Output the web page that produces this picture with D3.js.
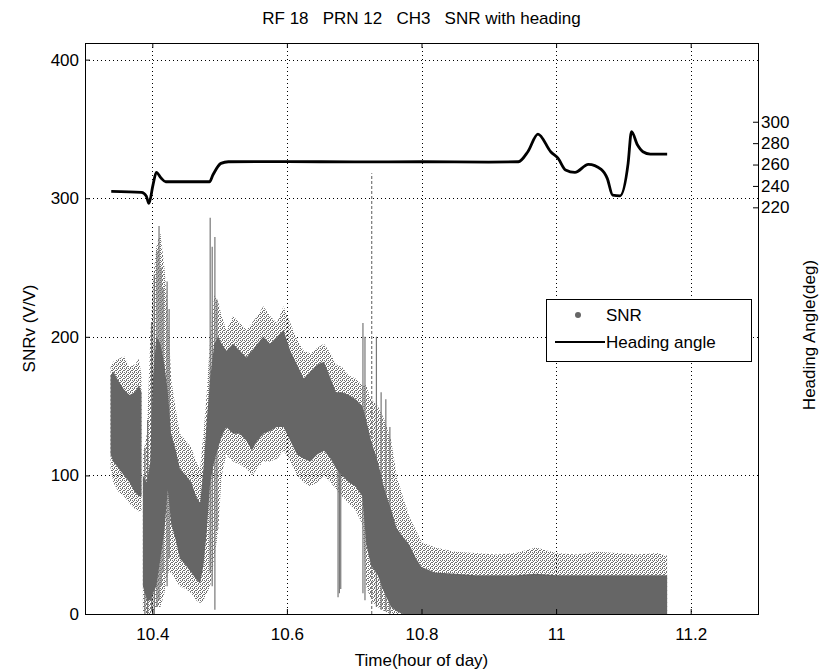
<!DOCTYPE html>
<html>
<head>
<meta charset="utf-8">
<script src="https://cdn.jsdelivr.net/npm/d3@7"></script>
<style>
body { margin: 0; background: #fff; }
text { font-family: "Liberation Sans", Arial, sans-serif; fill: #000; }
</style>
</head>
<body>
<svg></svg>
<script>
// SNR scatter, read as bands: dense core + sparse fringe (null = gap)
var snrTime = [10.338,10.342,10.350,10.358,10.366,10.374,10.380,10.384,10.385,
  10.386,10.392,10.397,10.401,10.406,10.412,10.418,10.423,10.428,10.434,10.441,10.450,10.458,10.465,10.471,10.476,10.481,10.486,10.492,10.498,10.503,
  10.510,10.520,10.530,10.540,10.548,10.556,10.565,10.575,10.585,10.595,10.605,10.615,10.625,10.635,10.645,10.655,10.665,10.673,
  10.682,10.692,10.702,10.712,10.718,10.725,10.735,10.745,10.755,10.763,10.772,10.782,10.792,10.800,
  10.82,10.85,10.88,10.91,10.94,10.97,11.00,11.03,11.06,11.09,11.12,11.15,11.165];
var snrCoreLo = [115,110,105,100,95,88,85,85,null,
  20,10,10,15,20,40,60,90,65,55,40,35,30,25,22,35,60,95,110,120,128,
  135,130,130,125,118,125,130,132,135,135,125,115,112,110,115,118,112,105,
  100,95,92,85,50,35,28,15,5,2,0,0,0,0,
  0,0,0,0,0,0,0,0,0,0,0,0,0];
var snrCoreHi = [172,175,168,162,158,160,165,160,null,
  100,95,110,170,200,195,180,160,130,120,105,100,95,85,80,105,140,170,195,200,195,
  190,195,190,185,190,195,200,195,200,205,190,180,170,175,180,182,170,160,
  160,158,155,150,140,125,110,90,75,62,56,50,40,34,
  30,29,28,28,28,29,28,28,28,28,28,28,28];
var snrOutLo = [105,95,88,85,80,76,74,75,null,
  2,0,0,0,5,5,15,30,30,25,20,18,15,10,8,10,15,20,40,60,100,
  115,110,108,105,100,105,110,110,112,118,110,100,95,92,95,100,95,90,
  85,80,75,65,20,10,5,2,0,0,0,0,0,0,
  0,0,0,0,0,0,0,0,0,0,0,0,0];
var snrOutHi = [178,182,184,186,178,180,184,172,null,
  115,130,200,240,265,275,250,220,170,150,130,125,120,110,105,130,160,200,230,225,215,
  205,215,210,205,210,215,222,215,210,222,210,198,190,188,192,195,188,180,
  178,172,170,165,165,155,150,140,125,100,85,70,60,52,
  48,45,44,43,44,48,44,43,45,44,43,44,42];

// thin vertical streaks of the scatter
var spikeTime = [10.389,10.393,10.399,10.403,10.407,10.410,10.413,10.416,10.422,10.425,10.486,10.489,10.493,10.496,10.676,10.678,10.680,10.713,10.716,10.726,10.733,10.740,10.747,10.753];
var spikeLo   = [0,0,2,0,5,10,20,30,20,40,30,20,3,60,12,15,18,15,10,0,5,3,2,0];
var spikeHi   = [120,140,210,245,262,280,250,235,240,220,286,265,272,227,115,110,105,210,200,318,200,160,155,135];

// heading angle (right axis)
var headTime  = [10.339,10.384,10.391,10.395,10.401,10.406,10.413,10.420,10.485,10.490,10.502,10.513,10.60,10.70,10.80,10.90,10.944,10.958,10.973,10.992,11.003,11.014,11.028,11.048,11.067,11.076,11.084,11.095,11.107,11.112,11.121,11.129,11.140,11.165];
var headAngle = [235,234,230.6,223.7,240.8,252.7,247.4,243.9,243.9,250.2,261.1,262.6,262.8,262.4,262.6,262.3,262.6,272,288.5,272,265.8,254.9,252.7,260.2,255.5,247.1,231.5,230.8,261.1,290.7,278.2,272,269.8,269.8];

var xTicks = [10.4, 10.6, 10.8, 11, 11.2];
var xTickLabels = ["10.4", "10.6", "10.8", "11", "11.2"];
var yTicks = [0, 100, 200, 300, 400];
var hTicks = [220, 240, 260, 280, 300];

var svgWidth = 829, svgHeight = 671;
var pLeft = 85, pRight = 758, pTop = 43, pBottom = 614;

var svg = d3.select("svg")
    .attr("width", svgWidth)
    .attr("height", svgHeight);

// stipple for the sparse part of the scatter
var pat = svg.append("defs").append("pattern")
    .attr("id", "stipple")
    .attr("patternUnits", "userSpaceOnUse")
    .attr("width", 4).attr("height", 4);
[[0,0],[2,0],[1,1],[3,2],[0,2],[2,3]].forEach(function(p) {
    pat.append("rect").attr("x", p[0]).attr("y", p[1])
        .attr("width", 1).attr("height", 1).attr("fill", "#707070");
});

var x = d3.scaleLinear().domain([10.3, 11.3]).range([pLeft, pRight]);
var y = d3.scaleLinear().domain([0, 412]).range([pBottom, pTop]);
var yH = d3.scaleLinear().domain([-160.1, 373.6]).range([pBottom, pTop]);

// grid
var grid = svg.append("g").attr("stroke", "#000").attr("stroke-dasharray", "1,3").attr("stroke-width", 1);
grid.selectAll(".gx").data(xTicks).enter().append("line")
    .attr("x1", function(d) { return Math.round(x(d)) + 0.5; })
    .attr("x2", function(d) { return Math.round(x(d)) + 0.5; })
    .attr("y1", pTop).attr("y2", pBottom);
grid.selectAll(".gy").data(yTicks.slice(1)).enter().append("line")
    .attr("y1", function(d) { return Math.round(y(d)) + 0.5; })
    .attr("y2", function(d) { return Math.round(y(d)) + 0.5; })
    .attr("x1", pLeft).attr("x2", pRight);

// SNR bands
var idx = d3.range(snrTime.length);
var outArea = d3.area()
    .defined(function(i) { return snrOutLo[i] !== null; })
    .x(function(i) { return x(snrTime[i]); })
    .y0(function(i) { return y(snrOutLo[i]); })
    .y1(function(i) { return y(snrOutHi[i]); });
var coreArea = d3.area()
    .defined(function(i) { return snrCoreLo[i] !== null; })
    .x(function(i) { return x(snrTime[i]); })
    .y0(function(i) { return y(snrCoreLo[i]); })
    .y1(function(i) { return y(snrCoreHi[i]); });

svg.append("path").datum(idx)
    .attr("d", outArea)
    .attr("fill", "url(#stipple)");

svg.selectAll(".spike").data(spikeTime).enter().append("line")
    .attr("class", "spike")
    .attr("x1", function(d) { return x(d); })
    .attr("x2", function(d) { return x(d); })
    .attr("y1", function(d, i) { return y(spikeLo[i]); })
    .attr("y2", function(d, i) { return y(spikeHi[i]); })
    .attr("stroke", "#777")
    .attr("stroke-width", 1.2)
    .attr("stroke-dasharray", function(d, i) { return spikeHi[i] > 300 ? "3,2" : null; });

svg.append("path").datum(idx)
    .attr("d", coreArea)
    .attr("fill", "#666");

// heading line
var headLine = d3.line()
    .x(function(d, i) { return x(headTime[i]); })
    .y(function(d) { return yH(d); })
    .curve(d3.curveMonotoneX);

svg.append("path").datum(headAngle)
    .attr("d", headLine)
    .attr("fill", "none")
    .attr("stroke", "#000")
    .attr("stroke-width", 2.8)
    .attr("stroke-linejoin", "round");

// axes
function styleAxis(g) {
    g.attr("font-size", 17).attr("font-family", "Liberation Sans, Arial, sans-serif");
    g.select(".domain").remove();
    g.selectAll("line").attr("stroke", "#000");
    g.selectAll("text").attr("fill", "#000");
}

svg.append("g")
    .attr("transform", "translate(0," + pBottom + ")")
    .call(d3.axisBottom(x).tickValues(xTicks).tickSize(-5).tickPadding(14)
        .tickFormat(function(d, i) { return xTickLabels[i]; }))
    .call(styleAxis);

svg.append("g")
    .attr("transform", "translate(0," + pTop + ")")
    .call(d3.axisTop(x).tickValues(xTicks).tickSize(-5).tickFormat(""))
    .call(styleAxis);

svg.append("g")
    .attr("transform", "translate(" + pLeft + ",0)")
    .call(d3.axisLeft(y).tickValues(yTicks).tickSize(-5).tickPadding(6))
    .call(styleAxis);

svg.append("g")
    .attr("transform", "translate(" + pRight + ",0)")
    .call(d3.axisRight(yH).tickValues(hTicks).tickSize(-5).tickPadding(3))
    .call(styleAxis);

svg.append("rect")
    .attr("x", pLeft + 0.5).attr("y", pTop + 0.5)
    .attr("width", pRight - pLeft).attr("height", pBottom - pTop)
    .attr("fill", "none").attr("stroke", "#000").attr("stroke-width", 1);

// texts
svg.append("text")
    .attr("x", (pLeft + pRight) / 2).attr("y", 24)
    .attr("text-anchor", "middle")
    .attr("font-size", 17)
    .style("white-space", "pre")
    .text("RF 18   PRN 12   CH3   SNR with heading");

svg.append("text")
    .attr("x", (pLeft + pRight) / 2).attr("y", 666)
    .attr("text-anchor", "middle")
    .attr("font-size", 17)
    .text("Time(hour of day)");

svg.append("text")
    .attr("transform", "translate(35," + (pTop + pBottom) / 2 + ") rotate(-90)")
    .attr("text-anchor", "middle")
    .attr("font-size", 17)
    .text("SNRv (V/V)");

svg.append("text")
    .attr("transform", "translate(815,335) rotate(-90)")
    .attr("text-anchor", "middle")
    .attr("font-size", 17)
    .text("Heading Angle(deg)");

// legend
var legend = svg.append("g");
legend.append("rect")
    .attr("x", 546.5).attr("y", 299.5)
    .attr("width", 205).attr("height", 62)
    .attr("fill", "#fff").attr("stroke", "#000");
legend.append("circle")
    .attr("cx", 578).attr("cy", 315).attr("r", 3)
    .attr("fill", "#666");
legend.append("line")
    .attr("x1", 555).attr("x2", 605).attr("y1", 342).attr("y2", 342)
    .attr("stroke", "#000").attr("stroke-width", 2);
legend.append("text").attr("x", 606).attr("y", 321).attr("font-size", 17).text("SNR");
legend.append("text").attr("x", 606).attr("y", 348).attr("font-size", 17).text("Heading angle");
</script>
</body>
</html>
